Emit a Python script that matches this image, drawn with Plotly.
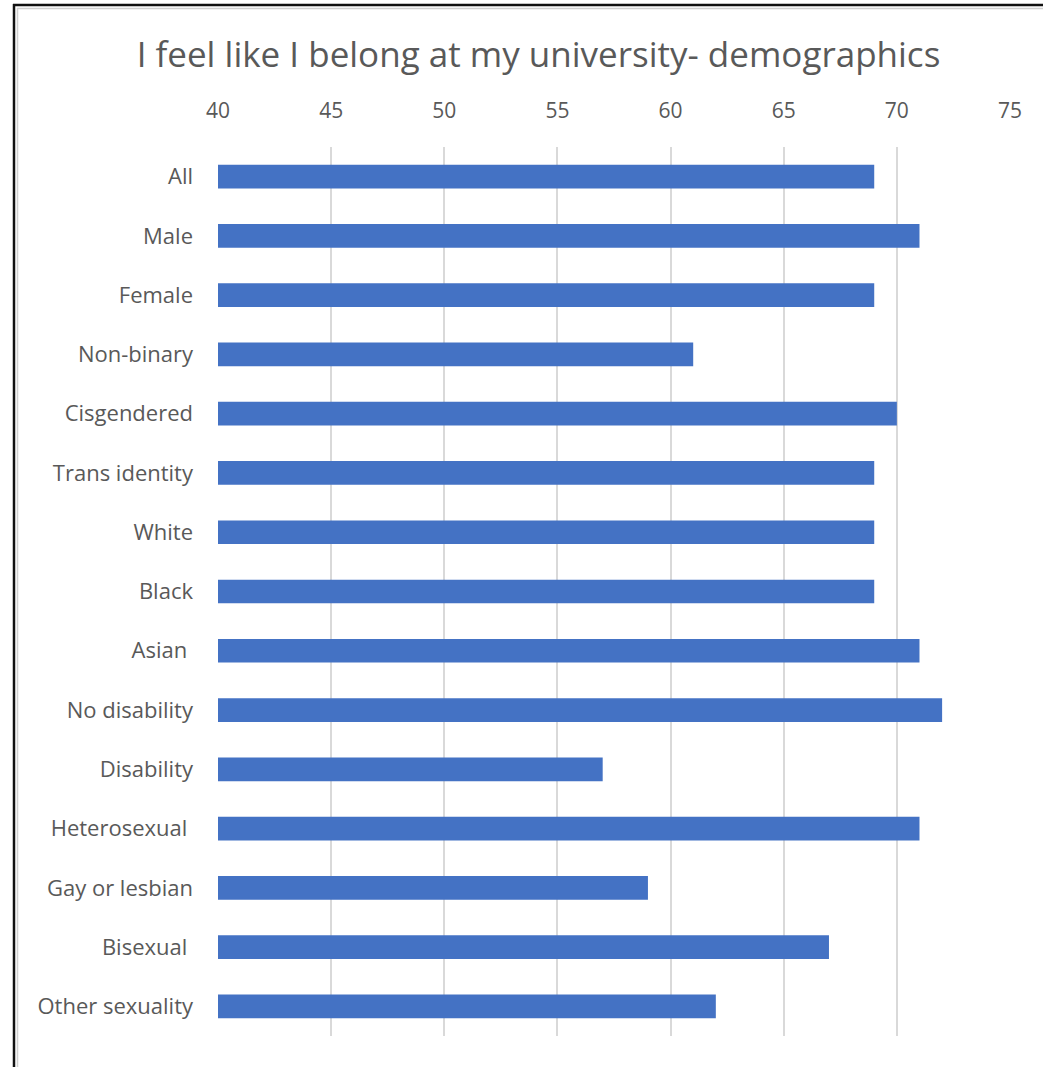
import plotly.graph_objects as go

# Share of respondents agreeing "I feel like I belong at my university", by group
categories = [
    "All", "Male", "Female", "Non-binary", "Cisgendered", "Trans identity",
    "White", "Black", "Asian\u00a0", "No disability", "Disability", "Heterosexual\u00a0",
    "Gay or lesbian", "Bisexual\u00a0", "Other sexuality",
]
values = [69, 71, 69, 61, 70, 69, 69, 69, 71, 72, 57, 71, 59, 67, 62]
x_ticks = [40, 45, 50, 55, 60, 65, 70, 75]

W, H = 1043, 1067
L, R, T, B = 218, 33, 147, 31
FONT = "Open Sans"
GREY = "#595959"

fig = go.Figure(
    go.Bar(
        x=values,
        y=categories,
        orientation="h",
        marker=dict(color="#4472C4", line=dict(width=0)),
        width=0.4,
        hoverinfo="x+y",
    )
)


def px_to_paper_x(px):
    return (px - L) / (W - L - R)


def px_to_paper_y(py):
    return 1 - (py - T) / (H - T - B)


# Frame edges along the left and top of the canvas
frame = [
    dict(x0=px_to_paper_x(14), x1=px_to_paper_x(14), y0=px_to_paper_y(4), y1=px_to_paper_y(H + 5),
         line=dict(color="#111111", width=2.5)),
    dict(x0=px_to_paper_x(13), x1=px_to_paper_x(W + 5), y0=px_to_paper_y(5), y1=px_to_paper_y(5),
         line=dict(color="#111111", width=2.5)),
    dict(x0=px_to_paper_x(17.5), x1=px_to_paper_x(17.5), y0=px_to_paper_y(8), y1=px_to_paper_y(H + 5),
         line=dict(color="#d0d0d0", width=1.5)),
    dict(x0=px_to_paper_x(17), x1=px_to_paper_x(W + 5), y0=px_to_paper_y(8.5), y1=px_to_paper_y(8.5),
         line=dict(color="#d0d0d0", width=1.5)),
]
for s in frame:
    fig.add_shape(type="line", xref="paper", yref="paper", layer="above", **s)

fig.update_layout(
    width=W,
    height=H,
    margin=dict(l=L, r=R, t=T, b=B, pad=0),
    paper_bgcolor="white",
    plot_bgcolor="white",
    showlegend=False,
    bargap=0.6,
    title=dict(
        text="I feel like I belong at my university- demographics",
        x=(137 + 940) / 2 / W,
        xanchor="center",
        y=1 - 55 / H,
        yanchor="middle",
        font=dict(family=FONT, size=35, color=GREY),
    ),
    xaxis=dict(
        side="top",
        range=[40, 75],
        tickvals=x_ticks,
        ticktext=[str(v) for v in x_ticks],
        showgrid=True,
        gridcolor="#d9d9d9",
        gridwidth=1.5,
        zeroline=False,
        showline=False,
        ticks="",
        ticklabelstandoff=24,
        tickfont=dict(family=FONT, size=21, color=GREY),
    ),
    yaxis=dict(
        autorange="reversed",
        showgrid=False,
        zeroline=False,
        showline=False,
        ticks="",
        ticklabelstandoff=24,
        tickfont=dict(family=FONT, size=22, color=GREY),
    ),
)

fig.write_html("out.html")
